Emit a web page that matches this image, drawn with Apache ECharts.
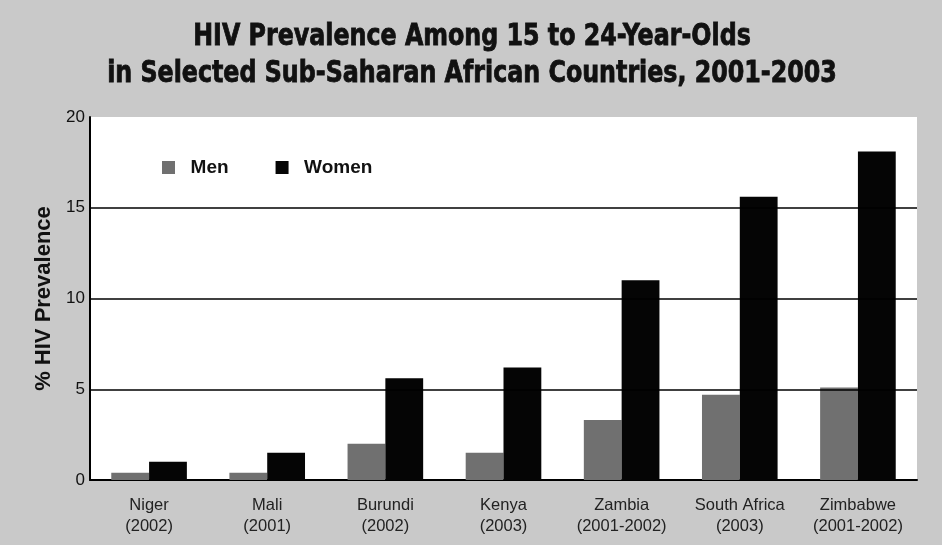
<!DOCTYPE html>
<html>
<head>
<meta charset="utf-8">
<script src="https://cdn.jsdelivr.net/npm/echarts@6/dist/echarts.min.js"></script>
<style>
  html, body { margin: 0; padding: 0; background: #c9c9c9; }
  #chart { width: 942px; height: 545px; }
</style>
</head>
<body>
<div id="chart"></div>
<script>
var countries = ['Niger\n(2002)', 'Mali\n(2001)', 'Burundi\n(2002)', 'Kenya\n(2003)',
  'Zambia\n(2001-2002)', 'South Africa\n(2003)', 'Zimbabwe\n(2001-2002)'];
var men = [0.4, 0.4, 2.0, 1.5, 3.3, 4.7, 5.1];
var women = [1.0, 1.5, 5.6, 6.2, 11.0, 15.6, 18.1];
var gridLines = [5, 10, 15];
var yTicks = [0, 5, 10, 15, 20];
var titleText = 'HIV Prevalence Among 15 to 24-Year-Olds\nin Selected Sub-Saharan African Countries, 2001-2003';

var chart = echarts.init(document.getElementById('chart'));

var option = {
  backgroundColor: '#c9c9c9',
  animation: false,
  // title drawn as graphic text so it can be squeezed like the condensed original
  graphic: [{
    type: 'text',
    x: 472,
    y: 19,
    scaleX: 0.88,
    style: {
      text: titleText,
      textAlign: 'center',
      fontFamily: "'DejaVu Sans Condensed', 'DejaVu Sans', sans-serif",
      fontWeight: 'bold',
      fontSize: 30,
      lineHeight: 37,
      fill: '#111',
      stroke: '#111',
      lineWidth: 0.8
    }
  }],
  legend: {
    left: 157,
    top: 153,
    icon: 'rect',
    itemWidth: 13,
    itemHeight: 13,
    itemGap: 47,
    formatter: '  {name}',
    textStyle: {
      fontFamily: "'Liberation Sans', Arial, sans-serif",
      fontWeight: 'bold',
      fontSize: 19,
      color: '#111'
    },
    data: ['Men', 'Women']
  },
  grid: {
    left: 90,
    right: 25,
    top: 117,
    bottom: 65,
    show: true,
    backgroundColor: '#ffffff',
    borderWidth: 0
  },
  xAxis: {
    type: 'category',
    data: countries,
    axisLine: { lineStyle: { color: '#000', width: 2 } },
    axisTick: { show: false },
    axisLabel: {
      interval: 0,
      hideOverlap: false,
      margin: 15,
      fontFamily: "'Liberation Sans', Arial, sans-serif",
      fontSize: 16.5,
      lineHeight: 21,
      color: '#222'
    }
  },
  yAxis: {
    type: 'value',
    min: 0,
    max: 20,
    interval: 5,
    name: '% HIV Prevalence',
    nameLocation: 'middle',
    nameGap: 34,
    nameTextStyle: {
      fontFamily: "'Liberation Sans', Arial, sans-serif",
      fontWeight: 'bold',
      fontSize: 22,
      color: '#111'
    },
    axisLine: { show: true, lineStyle: { color: '#000', width: 2 } },
    axisTick: { show: false },
    splitLine: { show: false },
    axisLabel: {
      margin: 5,
      fontFamily: "'Liberation Sans', Arial, sans-serif",
      fontSize: 17,
      color: '#111',
      formatter: function (v) { return yTicks.indexOf(v) >= 0 ? String(v) : ''; }
    }
  },
  series: [
    {
      name: 'Men',
      type: 'bar',
      data: men,
      barWidth: '32%',
      barGap: '0%',
      itemStyle: { color: '#707070' },
      markLine: {
        silent: true,
        symbol: 'none',
        label: { show: false },
        lineStyle: { color: '#000', width: 1.5, type: 'solid' },
        data: gridLines.map(function (v) { return { yAxis: v }; })
      }
    },
    {
      name: 'Women',
      type: 'bar',
      data: women,
      barWidth: '32%',
      barGap: '0%',
      z: 3,
      itemStyle: { color: '#050505' }
    }
  ]
};

chart.setOption(option);
</script>
</body>
</html>
